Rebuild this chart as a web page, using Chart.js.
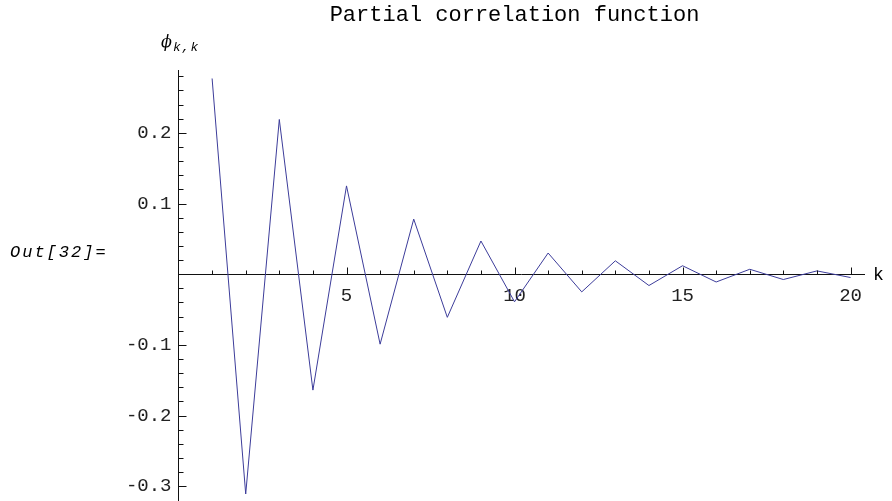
<!DOCTYPE html>
<html>
<head>
<meta charset="utf-8">
<script src="https://cdn.jsdelivr.net/npm/chart.js@4.4.1/dist/chart.umd.min.js"></script>
<style>
  body { margin: 0; background: #fff; }
</style>
</head>
<body>
<canvas id="pacf" width="892" height="501"></canvas>
<script>
// partial autocorrelation values
let lags = [1,2,3,4,5,6,7,8,9,10,11,12,13,14,15,16,17,18,19,20];
let phiKK = [0.277,-0.311,0.219,-0.164,0.125,-0.099,0.078,-0.061,0.047,-0.039,
             0.030,-0.025,0.019,-0.016,0.012,-0.011,0.007,-0.0075,0.0047,-0.0047];
let xLabels = [5,10,15,20];
let yLabels = [-0.3,-0.2,-0.1,0.1,0.2];

let mono = '"Liberation Mono", "Courier New", monospace';

function noPad(scale) {
    scale.paddingTop = 0; scale.paddingBottom = 0;
    scale.paddingLeft = 0; scale.paddingRight = 0;
}

// mathematica style tick marks + loose labels
let extras = {
    id: 'extras',
    afterDraw(chart) {
        let ctx = chart.ctx;
        let x = chart.scales.x, y = chart.scales.y;
        let x0 = x.getPixelForValue(0), y0 = Math.round(y.getPixelForValue(0)) + 0.5;
        ctx.save();
        ctx.strokeStyle = '#111';
        ctx.lineWidth = 1;
        ctx.beginPath();
        x.ticks.forEach(t => {
            if (t.value === 0) return;
            let px = Math.round(x.getPixelForValue(t.value)) + 0.5;
            let len = t.value % 5 === 0 ? 7 : 4;
            ctx.moveTo(px, y0); ctx.lineTo(px, y0 - len);
        });
        y.ticks.forEach(t => {
            if (Math.abs(t.value) < 1e-9) return;
            let py = Math.round(y.getPixelForValue(t.value)) + 0.5;
            let major = Math.abs(t.value * 10 - Math.round(t.value * 10)) < 1e-6;
            ctx.moveTo(x0, py); ctx.lineTo(x0 + (major ? 8 : 5), py);
        });
        ctx.stroke();

        ctx.fillStyle = '#000';
        ctx.textBaseline = 'alphabetic';
        ctx.textAlign = 'center';
        ctx.font = '22px ' + mono;
        ctx.fillText('Partial correlation function', 514.5, 21);

        ctx.textAlign = 'left';
        ctx.font = '18px ' + mono;
        ctx.fillText('k', 873, 280);

        ctx.font = 'italic 16px "DejaVu Serif", serif';
        ctx.fillText('\u03D5', 161, 47);
        ctx.font = 'italic 13px ' + mono;
        if ('letterSpacing' in ctx) ctx.letterSpacing = '1px';
        ctx.fillText('k,k', 173, 51);

        ctx.font = 'italic 17px ' + mono;
        if ('letterSpacing' in ctx) ctx.letterSpacing = '2px';
        ctx.fillText('Out[32]=', 10, 257);
        ctx.restore();
    }
};

let chart1 = new Chart(document.getElementById('pacf').getContext('2d'), {
    type: 'line',
    data: {
        datasets: [{
            data: lags.map((k, i) => ({x: k, y: phiKK[i]})),
            borderColor: '#3c3c9a',
            borderWidth: 1,
            pointRadius: 0,
            tension: 0,
            fill: false
        }]
    },
    options: {
        responsive: false,
        animation: false,
        layout: { padding: { left: 118.5, right: 28, top: 70, bottom: 1 } },
        plugins: { legend: { display: false }, tooltip: { enabled: false }, title: { display: false } },
        scales: {
            x: {
                type: 'linear',
                position: { y: 0 },
                min: 0,
                max: 20.4,
                grid: { display: false, drawTicks: false },
                border: { display: true, color: '#111', width: 1 },
                afterFit: noPad,
                ticks: {
                    stepSize: 1,
                    maxTicksLimit: 1000,
                    autoSkip: false,
                    includeBounds: false,
                    maxRotation: 0,
                    padding: 10,
                    color: '#222',
                    font: { family: mono, size: 19 },
                    callback: v => xLabels.includes(v) ? String(v) : ''
                }
            },
            y: {
                type: 'linear',
                position: 'left',
                min: -0.3195,
                max: 0.289,
                grid: { display: false, drawTicks: false },
                border: { display: true, color: '#111', width: 1 },
                afterFit: scale => { scale.width = 60; noPad(scale); },
                ticks: {
                    stepSize: 0.02,
                    maxTicksLimit: 1000,
                    autoSkip: false,
                    includeBounds: false,
                    padding: 7,
                    color: '#222',
                    font: { family: mono, size: 19 },
                    callback: v => {
                        let r = Math.round(v * 10) / 10;
                        return yLabels.includes(r) && Math.abs(v - r) < 1e-6 ? r.toFixed(1) : '';
                    }
                }
            }
        }
    },
    plugins: [extras]
});
</script>
</body>
</html>
